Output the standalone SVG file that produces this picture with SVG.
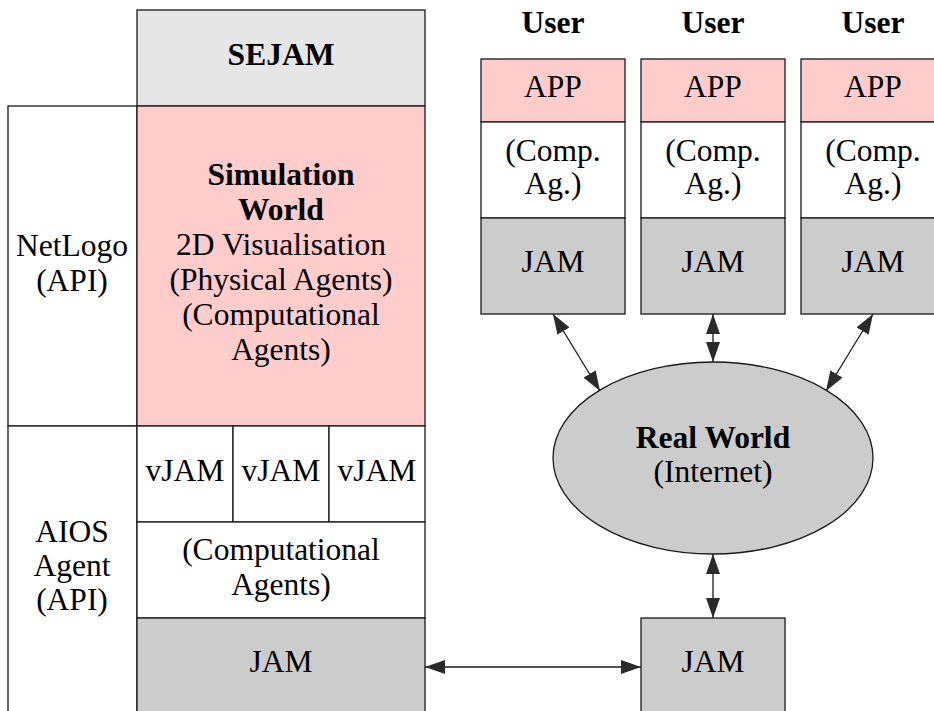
<svg xmlns="http://www.w3.org/2000/svg" width="934" height="711" viewBox="0 0 934 711">
<style>
.b{stroke:#1a1a1a;stroke-width:1.3}
.w{fill:#ffffff}.p{fill:#ffcccc}.g{fill:#cccccc}.l{fill:#e6e6e6}
text{font-family:'Liberation Serif','Times New Roman','DejaVu Serif',serif;font-size:31.5px;fill:#000;text-anchor:middle}
.bd{font-weight:bold}
.c{stroke:#1a1a1a;stroke-width:1.3;fill:none;marker-start:url(#ah);marker-end:url(#ah)}
</style>
<defs>
<marker id="ah" markerUnits="userSpaceOnUse" viewBox="0 0 20 14" refX="20" refY="7" markerWidth="20" markerHeight="14" orient="auto-start-reverse">
<path d="M0,0 L20,7 L0,14 Z" fill="#2a2a2a"/>
</marker>
</defs>
<rect width="934" height="711" fill="#ffffff"/>
<g id="sejam"><rect class="b l" x="137" y="10" width="288" height="96"/><text class="bd" x="281" y="65">SEJAM</text></g>
<g id="netlogo"><rect class="b w" x="8" y="106" width="129" height="320"/><text x="72" y="256">NetLogo</text><text x="72" y="291">(API)</text></g>
<g id="simworld"><rect class="b p" x="137" y="106" width="288" height="320"/>
<text class="bd" x="281" y="185">Simulation</text><text class="bd" x="281" y="220">World</text>
<text x="281" y="255">2D Visualisation</text><text x="281" y="290">(Physical Agents)</text>
<text x="281" y="325">(Computational</text><text x="281" y="360">Agents)</text></g>
<g id="aios"><rect class="b w" x="8" y="426" width="129" height="300"/><text x="72" y="542">AIOS</text><text x="72" y="576">Agent</text><text x="72" y="610">(API)</text></g>
<g id="vjam1"><rect class="b w" x="137" y="426" width="96" height="96"/><text x="185" y="481">vJAM</text></g>
<g id="vjam2"><rect class="b w" x="233" y="426" width="96" height="96"/><text x="281" y="481">vJAM</text></g>
<g id="vjam3"><rect class="b w" x="329" y="426" width="96" height="96"/><text x="377" y="481">vJAM</text></g>
<g id="compagents"><rect class="b w" x="137" y="522" width="288" height="96"/><text x="281" y="560">(Computational</text><text x="281" y="595">Agents)</text></g>
<g id="jam-left"><rect class="b g" x="137" y="618" width="288" height="100"/><text x="281" y="672">JAM</text></g>
<g id="user1"><text class="bd" x="553" y="33">User</text>
<rect class="b p" x="481" y="59" width="144" height="63"/><text x="553" y="97">APP</text>
<rect class="b w" x="481" y="122" width="144" height="96"/><text x="553" y="161">(Comp.</text><text x="553" y="194">Ag.)</text>
<rect class="b g" x="481" y="218" width="144" height="96"/><text x="553" y="272">JAM</text></g>
<g id="user2"><text class="bd" x="713" y="33">User</text>
<rect class="b p" x="641" y="59" width="144" height="63"/><text x="713" y="97">APP</text>
<rect class="b w" x="641" y="122" width="144" height="96"/><text x="713" y="161">(Comp.</text><text x="713" y="194">Ag.)</text>
<rect class="b g" x="641" y="218" width="144" height="96"/><text x="713" y="272">JAM</text></g>
<g id="user3"><text class="bd" x="873" y="33">User</text>
<rect class="b p" x="801" y="59" width="144" height="63"/><text x="873" y="97">APP</text>
<rect class="b w" x="801" y="122" width="144" height="96"/><text x="873" y="161">(Comp.</text><text x="873" y="194">Ag.)</text>
<rect class="b g" x="801" y="218" width="144" height="96"/><text x="873" y="272">JAM</text></g>
<g id="realworld"><ellipse class="b g" cx="713" cy="458" rx="160" ry="96"/><text class="bd" x="713" y="448">Real World</text><text x="713" y="482">(Internet)</text></g>
<g id="jam-right"><rect class="b g" x="641" y="618" width="144" height="100"/><text x="713" y="672">JAM</text></g>
<g id="connectors">
<line class="c" x1="553" y1="314" x2="600" y2="391"/>
<line class="c" x1="713" y1="314" x2="713" y2="362"/>
<line class="c" x1="873" y1="314" x2="826" y2="391"/>
<line class="c" x1="713" y1="554" x2="713" y2="618"/>
<line class="c" x1="425" y1="667" x2="641" y2="667"/>
</g>
</svg>
